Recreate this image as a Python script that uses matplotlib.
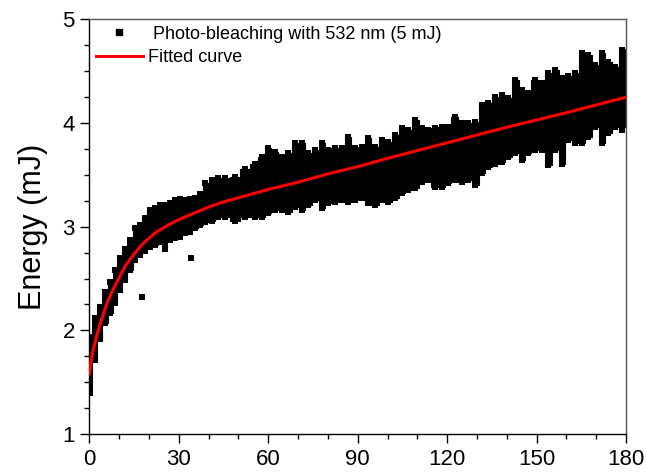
import matplotlib
matplotlib.use("Agg")
import matplotlib.pyplot as plt
from matplotlib.ticker import MultipleLocator
from matplotlib.lines import Line2D

plt.rcParams['font.family'] = ['Liberation Sans', 'DejaVu Sans']

time_x = [0.2, 1.8, 3.5, 5.2, 6.9, 8.6, 10.2, 11.9, 13.6, 15.3, 16.9, 18.6, 20.3, 22, 23.7,
          25.3, 27, 28.7, 30.4, 32, 33.7, 35.4, 37.1, 38.8, 41.1, 43.1, 45.5, 48.8, 52.2, 55.5,
          57.9, 59.9, 62.2, 64.6, 66.6, 69, 71.3, 73.3, 75.7, 78, 80, 82.4, 84.7, 86.7, 89.1,
          91.4, 93.4, 95.8, 98.2, 100.2, 102.5, 104.9, 106.9, 109.2, 111.6, 113.6, 115.9, 118.3,
          120.3, 122.6, 125, 127, 129.4, 131.7, 133.7, 136.1, 138.4, 140.4, 142.8, 145.1, 147.1,
          149.5, 151.8, 153.9, 156.2, 158.6, 160.6, 162.9, 165.3, 167.3, 169.6, 172, 174, 176.3,
          178.7, 180]
energy_upper = [1.94, 2.12, 2.23, 2.37, 2.47, 2.58, 2.70, 2.79, 2.87, 2.99, 3.02, 3.08, 3.16, 3.18,
                3.21, 3.21, 3.23, 3.26, 3.27, 3.26, 3.27, 3.28, 3.32, 3.42, 3.45, 3.47, 3.47, 3.48,
                3.56, 3.61, 3.67, 3.76, 3.72, 3.67, 3.71, 3.81, 3.81, 3.71, 3.74, 3.81, 3.74, 3.76,
                3.76, 3.87, 3.76, 3.77, 3.86, 3.77, 3.84, 3.82, 3.89, 3.95, 3.93, 4.03, 3.95, 3.93,
                3.95, 3.96, 3.96, 4.06, 4.00, 4.00, 4.01, 4.17, 4.19, 4.25, 4.27, 4.24, 4.42, 4.32,
                4.29, 4.42, 4.39, 4.48, 4.51, 4.44, 4.45, 4.48, 4.68, 4.66, 4.56, 4.68, 4.59, 4.54,
                4.71, 4.69]
energy_lower = [1.40, 1.71, 1.92, 2.07, 2.17, 2.26, 2.39, 2.49, 2.58, 2.68, 2.73, 2.77, 2.80, 2.82,
                2.85, 2.79, 2.87, 2.89, 2.90, 2.94, 2.95, 2.99, 3.02, 3.05, 3.06, 3.09, 3.09, 3.06,
                3.09, 3.09, 3.09, 3.13, 3.16, 3.16, 3.14, 3.19, 3.16, 3.21, 3.26, 3.18, 3.23, 3.24,
                3.26, 3.24, 3.26, 3.28, 3.23, 3.21, 3.26, 3.24, 3.28, 3.33, 3.35, 3.37, 3.43, 3.45,
                3.38, 3.38, 3.42, 3.45, 3.43, 3.45, 3.40, 3.52, 3.58, 3.61, 3.62, 3.67, 3.71, 3.64,
                3.71, 3.74, 3.74, 3.60, 3.74, 3.61, 3.84, 3.81, 3.81, 3.87, 3.96, 3.81, 3.90, 3.96,
                3.93, 3.98]
outlier_x = [17.5, 34.1]
outlier_y = [2.32, 2.70]

# Fitted curve
fit_x = [0, 0.5, 1, 2, 3, 4, 6, 8, 10, 12, 15, 18, 22, 26, 30, 35, 40, 45, 50, 60, 70, 80,
         90, 100, 120, 140, 160, 180]
fit_y = [1.58, 1.70, 1.78, 1.90, 2.01, 2.10, 2.27, 2.40, 2.51, 2.62, 2.74, 2.84, 2.94, 3.01,
         3.07, 3.13, 3.19, 3.24, 3.28, 3.36, 3.43, 3.51, 3.58, 3.66, 3.81, 3.96, 4.10, 4.25]

fig = plt.figure(figsize=(6.46, 4.75), dpi=100)
ax = fig.add_axes([0.1385, 0.0863, 0.8305, 0.8727])

ax.fill_between(time_x, energy_lower, energy_upper, step='mid', color='black', lw=0.8,
                edgecolor='black', zorder=2)
ax.scatter(time_x, energy_upper, marker='s', s=14, color='black', lw=0, zorder=2)
ax.scatter(time_x, energy_lower, marker='s', s=14, color='black', lw=0, zorder=2)
ax.scatter(outlier_x, outlier_y, marker='s', s=22, color='black', lw=0, zorder=2)
ax.plot(fit_x, fit_y, color='red', lw=2.2, zorder=3)

ax.set_xlim(0, 180)
ax.set_ylim(1, 5)
ax.xaxis.set_major_locator(MultipleLocator(30))
ax.xaxis.set_minor_locator(MultipleLocator(10))
ax.yaxis.set_major_locator(MultipleLocator(1))
ax.yaxis.set_minor_locator(MultipleLocator(0.25))
ax.tick_params(which='major', direction='out', length=6.5, width=1, labelsize=16, pad=4)
ax.tick_params(which='minor', direction='out', length=3.5, width=1)
ax.tick_params(top=False, right=False, which='both')
for s in ['left', 'bottom']:
    ax.spines[s].set_color('black')
    ax.spines[s].set_linewidth(1)
for s in ['top', 'right']:
    ax.spines[s].set_color('#555555')
    ax.spines[s].set_linewidth(1)

ax.set_ylabel('Energy (mJ)', fontsize=22, labelpad=10)

handles = [Line2D([], [], marker='s', color='black', linestyle='none', markersize=5),
           Line2D([], [], color='red', lw=2.2)]
labels = [' Photo-bleaching with 532 nm (5 mJ)', 'Fitted curve']
ax.legend(handles, labels, loc='upper left', frameon=False, fontsize=13,
          handlelength=2.6, handletextpad=0.3, labelspacing=0.35,
          borderaxespad=0.15, borderpad=0.2)

fig.savefig('out.png', dpi=100)
